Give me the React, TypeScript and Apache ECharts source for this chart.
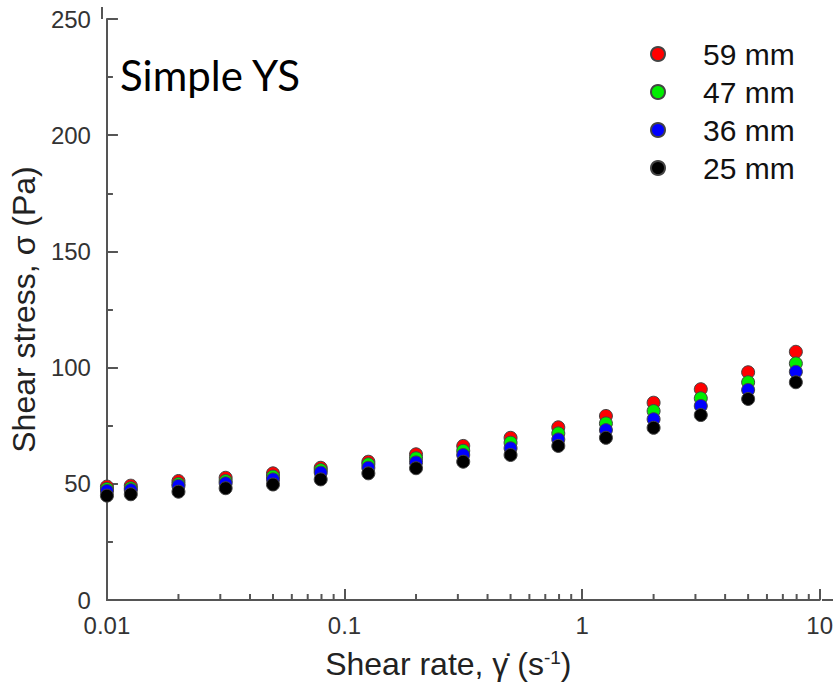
import React, { useEffect, useRef } from "react";
import * as echarts from "echarts";

const shearRates = [0.01, 0.0126, 0.02, 0.0316, 0.05, 0.0794, 0.126, 0.2, 0.316, 0.5, 0.794, 1.26, 2, 3.16, 5, 7.94];
const stress59 = [48.8, 49.2, 51.2, 52.6, 54.5, 56.9, 59.5, 62.7, 66.3, 69.8, 74.3, 79.2, 84.9, 90.7, 98.0, 106.8];
const stress47 = [47.8, 48.1, 49.9, 51.2, 53.1, 55.9, 58.4, 61.0, 64.2, 67.7, 71.7, 76.0, 81.3, 86.8, 93.7, 101.8];
const stress36 = [46.9, 47.3, 49.1, 50.2, 51.9, 54.8, 56.9, 59.2, 62.4, 65.3, 69.1, 73.1, 77.8, 83.5, 90.4, 98.2];
const stress25 = [44.9, 45.5, 46.6, 48.1, 49.7, 51.9, 54.5, 56.7, 59.5, 62.4, 66.3, 69.8, 74.1, 79.6, 86.5, 93.7];

const seriesNames = ["59 mm", "47 mm", "36 mm", "25 mm"];
const seriesColors = ["#ff0000", "#00ee00", "#0000ff", "#000000"];
const xTickLabels = ["0.01", "0.1", "1", "10"];
const xMinorTicks = [
  0.02, 0.03, 0.04, 0.05, 0.06, 0.07, 0.08, 0.09,
  0.2, 0.3, 0.4, 0.5, 0.6, 0.7, 0.8, 0.9,
  2, 3, 4, 5, 6, 7, 8, 9,
];

export default function App() {
  const ref = useRef<HTMLDivElement>(null);
  useEffect(() => {
    document.body.style.margin = "0";
    if (!ref.current) return;
    const chart = echarts.init(ref.current, null, { renderer: "svg" });
    const allStress = [stress59, stress47, stress36, stress25];
    const axisColor = "#555";
    const font = "Liberation Sans, Arial, sans-serif";
    chart.setOption({
      animation: false,
      backgroundColor: "#ffffff",
      grid: { left: 102, right: 14, top: 19, bottom: 91 },
      xAxis: {
        type: "log",
        logBase: 10,
        min: 0.01,
        max: 10,
        name: "Shear rate, \u03B3\u0307 (s{sup|-1})",
        nameLocation: "middle",
        nameGap: 48,
        nameTextStyle: {
          fontSize: 32,
          color: "#222",
          fontFamily: font,
          padding: [0, 30, 0, 0],
          rich: {
            sup: { fontSize: 19, verticalAlign: "top", color: "#222", fontFamily: font },
          },
        },
        axisLine: { show: true, lineStyle: { color: axisColor, width: 2 } },
        axisTick: { show: true, inside: true, length: 11, lineStyle: { color: axisColor, width: 2 } },
        axisLabel: {
          fontSize: 24,
          lineHeight: 22,
          color: "#333",
          fontFamily: font,
          margin: 14,
          formatter: (_v: number, i: number) => xTickLabels[i] ?? "",
        },
        splitLine: { show: false },
      },
      yAxis: {
        type: "value",
        min: 0,
        max: 250,
        interval: 50,
        name: "Shear stress, \u03C3 (Pa)",
        nameLocation: "middle",
        nameRotate: 90,
        nameGap: 62,
        nameTextStyle: { fontSize: 32, color: "#222", fontFamily: font },
        axisLine: { show: true, lineStyle: { color: axisColor, width: 2 } },
        axisTick: { show: true, inside: true, length: 11, lineStyle: { color: axisColor, width: 2 } },
        minorTick: { show: true, splitNumber: 2, length: 6, lineStyle: { color: axisColor, width: 2 } },
        axisLabel: { fontSize: 24, lineHeight: 20, color: "#333", fontFamily: font, margin: 16 },
        splitLine: { show: false },
      },
      legend: {
        data: seriesNames,
        orient: "vertical",
        left: 645,
        top: 34,
        itemWidth: 14,
        itemHeight: 14,
        itemGap: 8,
        icon: "circle",
        textStyle: { fontSize: 30, lineHeight: 28, color: "#111", fontFamily: font, padding: [0, 0, 0, 33] },
      },
      graphic: [
        {
          type: "text",
          left: 120,
          top: 54,
          style: { text: "Simple YS", font: "42px Lato, 'Open Sans', sans-serif", fill: "#000" },
        },
        {
          type: "line",
          shape: { x1: 102, y1: 19, x2: 102, y2: 7 },
          style: { stroke: axisColor, lineWidth: 2 },
        },
        {
          type: "line",
          shape: { x1: 822, y1: 600, x2: 833, y2: 600 },
          style: { stroke: axisColor, lineWidth: 2 },
        },
      ],
      series: [
        ...seriesNames.map((name, k) => ({
          name,
          type: "scatter",
          symbol: "circle",
          symbolSize: 13,
          z: 2 + k,
          itemStyle: { color: seriesColors[k], borderColor: "#444", borderWidth: 1, opacity: 1 },
          data: shearRates.map((x, i) => [x, allStress[k][i]]),
        })),
        {
          type: "custom",
          name: "minor",
          silent: true,
          z: 10,
          data: xMinorTicks.map((v) => [v, 0]),
          encode: { x: 0, y: 1 },
          renderItem: (_p: any, api: any) => {
            const p = api.coord([api.value(0), 0]);
            return {
              type: "line",
              shape: { x1: p[0], y1: p[1], x2: p[0], y2: p[1] - 6 },
              style: { stroke: axisColor, lineWidth: 2 },
            };
          },
        },
      ],
    });
    return () => chart.dispose();
  }, []);
  return <div ref={ref} style={{ width: 836, height: 691 }} />;
}
